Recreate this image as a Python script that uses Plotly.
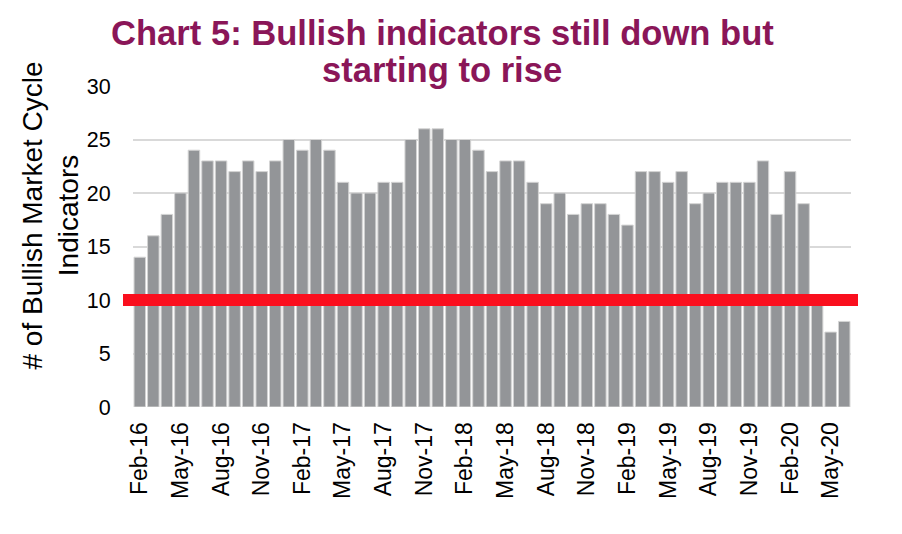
import plotly.graph_objects as go

months = ["Feb-16","Mar-16","Apr-16","May-16","Jun-16","Jul-16","Aug-16","Sep-16","Oct-16","Nov-16","Dec-16",
          "Jan-17","Feb-17","Mar-17","Apr-17","May-17","Jun-17","Jul-17","Aug-17","Sep-17","Oct-17","Nov-17","Dec-17",
          "Jan-18","Feb-18","Mar-18","Apr-18","May-18","Jun-18","Jul-18","Aug-18","Sep-18","Oct-18","Nov-18","Dec-18",
          "Jan-19","Feb-19","Mar-19","Apr-19","May-19","Jun-19","Jul-19","Aug-19","Sep-19","Oct-19","Nov-19","Dec-19",
          "Jan-20","Feb-20","Mar-20","Apr-20","May-20","Jun-20"]
values = [14,16,18,20,24,23,23,22,23,22,23,
          25,24,25,24,21,20,20,21,21,25,26,26,
          25,25,24,22,23,23,21,19,20,18,19,19,
          18,17,22,22,21,22,19,20,21,21,21,23,
          18,22,19,10,7,8]
tick_labels = months[::3]
threshold = 10
y_ticks = [0, 5, 10, 15, 20, 25, 30]

# page offset from default body margin
OFF = 8
W, H = 902 - OFF, 534 - OFF
# plot area in page pixels: x 133..851, y 86..407
L = 133 - OFF
T = 86 - OFF
R = W - (851 - OFF)
B = H - (407 - OFF)
pw, ph = W - L - R, H - T - B

def px_x(x):
    return (x - OFF - L) / pw

def px_y(y):
    return (H - B - (y - OFF)) / ph

fig = go.Figure()
fig.add_trace(go.Bar(
    x=months, y=values,
    marker=dict(color="#939598", line=dict(color="#d4d4d4", width=1)),
    hoverinfo="x+y",
))

fig.add_shape(type="line", xref="paper", yref="y",
              x0=px_x(123), x1=px_x(858), y0=threshold, y1=threshold,
              line=dict(color="#FA0F1E", width=12), layer="above")

font_family = "Liberation Sans, Arial, sans-serif"
title_color = "#8A1658"
fig.add_annotation(text="<b>Chart 5: Bullish indicators still down but</b>",
                   xref="paper", yref="paper", x=px_x(442), y=px_y(33),
                   xanchor="center", yanchor="middle", showarrow=False,
                   font=dict(family=font_family, size=34.6, color=title_color))
fig.add_annotation(text="<b>starting to rise</b>",
                   xref="paper", yref="paper", x=px_x(442), y=px_y(70),
                   xanchor="center", yanchor="middle", showarrow=False,
                   font=dict(family=font_family, size=34.6, color=title_color))
fig.add_annotation(text="# of Bullish Market Cycle<br>Indicators",
                   xref="paper", yref="paper", x=px_x(49.5), y=px_y(216),
                   xanchor="center", yanchor="middle", showarrow=False, textangle=-90,
                   font=dict(family=font_family, size=28, color="black"))

fig.update_layout(
    width=W, height=H,
    margin=dict(l=L, r=R, t=T, b=B, pad=0),
    paper_bgcolor="white", plot_bgcolor="white",
    showlegend=False, bargap=0.15,
    font=dict(family=font_family, color="black"),
)
fig.update_xaxes(
    type="category", tickmode="array", tickvals=tick_labels, ticktext=tick_labels,
    tickangle=-90, tickfont=dict(size=23, color="black"),
    ticks="outside", ticklen=5, tickcolor="rgba(0,0,0,0)",
    showgrid=False, showline=False, zeroline=False,
)
fig.update_yaxes(
    range=[0, 30], tickmode="array", tickvals=y_ticks,
    tickfont=dict(size=21.5, color="black"),
    ticks="outside", ticklen=17, tickcolor="rgba(0,0,0,0)",
    showgrid=True, gridcolor="rgba(0,0,0,0.15)", gridwidth=2,
    zeroline=False, showline=False, layer="above traces",
)

fig.write_html("out.html")
